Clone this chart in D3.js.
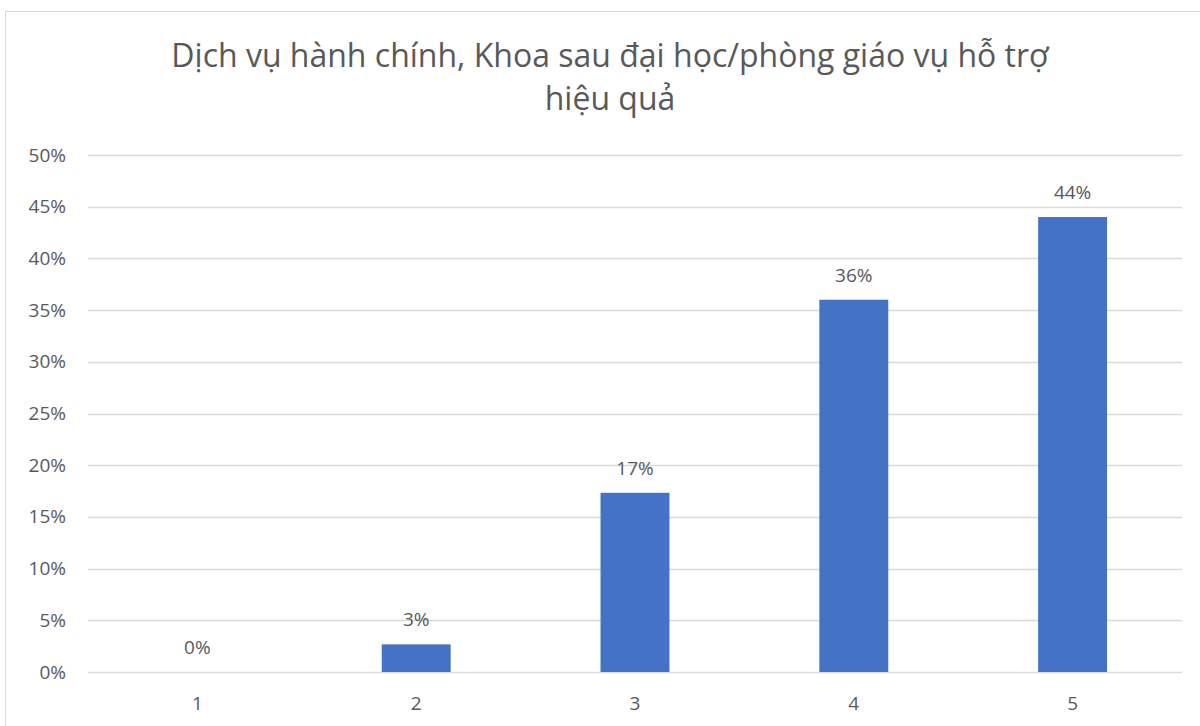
<!DOCTYPE html>
<html><head><meta charset="utf-8">
<script src="https://cdn.jsdelivr.net/npm/d3@7"></script>
<style>body{margin:0;background:#fff}svg{display:block}text{font-family:"Open Sans",sans-serif;fill:#595959}</style>
</head><body>
<script>
const categories = ["1","2","3","4","5"];
const values = [0, 0.0267, 0.1733, 0.36, 0.44];
const valueLabels = ["0%","3%","17%","36%","44%"];
const yTicks = [0,0.05,0.1,0.15,0.2,0.25,0.3,0.35,0.4,0.45,0.5];
const titleLines = ["Dịch vụ hành chính, Khoa sau đại học/phòng giáo vụ hỗ trợ","hiệu quả"];

const W=1200,H=726;
const svg=d3.select("body").append("svg").attr("width",W).attr("height",H);
svg.append("rect").attr("x",5.5).attr("y",11.5).attr("width",1200).attr("height",730).attr("fill","#fff").attr("stroke","#d9d9d9");

const m={l:88,r:1182,t:155,b:672};
const x=d3.scaleBand().domain(categories).range([m.l,m.r]).paddingInner(0.685).paddingOuter(0.3425);
const y=d3.scaleLinear().domain([0,0.5]).range([m.b,m.t]);

svg.append("g").selectAll("line").data(yTicks).join("line")
 .attr("x1",m.l).attr("x2",m.r).attr("y1",d=>Math.round(y(d))+0.5).attr("y2",d=>Math.round(y(d))+0.5)
 .attr("stroke","#d9d9d9").attr("stroke-width",1.3);

const yAxis=svg.append("g").attr("transform",`translate(${m.l},0)`)
 .call(d3.axisLeft(y).tickValues(yTicks).tickFormat(d3.format(".0%")).tickSize(0).tickPadding(22));
yAxis.select(".domain").remove();
yAxis.selectAll("text").style("font-size","19px").attr("fill","#595959").style("font-family","'Open Sans',sans-serif");

const xAxis=svg.append("g").attr("transform",`translate(0,${m.b})`)
 .call(d3.axisBottom(x).tickSize(0).tickPadding(25));
xAxis.select(".domain").remove();
xAxis.selectAll("text").style("font-size","19px").attr("fill","#595959").style("font-family","'Open Sans',sans-serif");

svg.append("g").selectAll("rect").data(values).join("rect")
 .attr("x",(d,i)=>x(categories[i])).attr("width",x.bandwidth())
 .attr("y",d=>y(d)).attr("height",d=>y(0)-y(d)).attr("fill","#4472c4");

svg.append("g").selectAll("text").data(values).join("text")
 .attr("x",(d,i)=>x(categories[i])+x.bandwidth()/2).attr("y",d=>y(d)-18)
 .attr("text-anchor","middle").style("font-size","19px").text((d,i)=>valueLabels[i]);

svg.append("g").selectAll("text").data(titleLines).join("text")
 .attr("x",610).attr("y",(d,i)=>67+i*43).attr("text-anchor","middle")
 .style("font-size","32px").text(d=>d);
</script>
</body></html>
